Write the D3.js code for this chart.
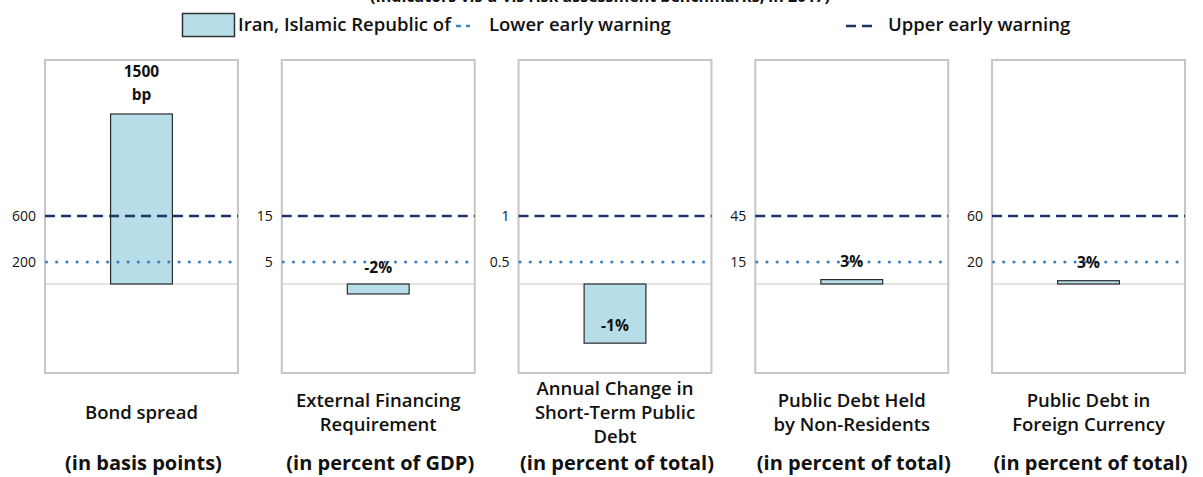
<!DOCTYPE html>
<html>
<head>
<meta charset="UTF-8">
<script src="https://d3js.org/d3.v7.min.js"></script>
<style>
  body { margin: 0; background: #fff; }
  text { font-family: "Open Sans", "Noto Sans", sans-serif; fill: #111; }
</style>
</head>
<body>
<svg id="canvas"></svg>
<script>
width = 1203;
height = 477;

// data
indicators = ["Bond spread", "External Financing Requirement", "Annual Change in Short-Term Public Debt",
              "Public Debt Held by Non-Residents", "Public Debt in Foreign Currency"];
labelLines = [["Bond spread"], ["External Financing", "Requirement"], ["Annual Change in", "Short-Term Public", "Debt"],
              ["Public Debt Held", "by Non-Residents"], ["Public Debt in", "Foreign Currency"]];
units = ["(in basis points)", "(in percent of GDP)", "(in percent of total)", "(in percent of total)", "(in percent of total)"];
values = [1500, -2.2, -0.87, 3, 3];
lowerWarning = [200, 5, 0.5, 15, 20];
upperWarning = [600, 15, 1, 45, 60];

svg = d3.select("#canvas").attr("width", width).attr("height", height);

fmt = d3.formatLocale({decimal: ".", thousands: ",", grouping: [3], currency: ["", ""], minus: "-"}).format(".0f");

panelTop = 60, panelBottom = 373;
zeroY = 284, lowerY = 262, upperY = 216;

px = d3.scaleBand().domain(indicators).range([45, 1185]).paddingInner(0.185);

// title (cut off at top of frame, as in the source)
svg.append("text")
    .attr("x", 600).attr("y", 2)
    .attr("text-anchor", "middle")
    .style("font-size", "16px").style("font-weight", "bold")
    .text("(Indicators vis-à-vis risk assessment benchmarks, in 2017)");

// legend
leg = svg.append("g");
leg.append("rect").attr("x", 182.5).attr("y", 13.5).attr("width", 52).attr("height", 23)
    .attr("fill", "#b7dde8").attr("stroke", "#333").attr("stroke-width", 1.5);
leg.append("text").attr("x", 238).attr("y", 31).style("font-size", "18.5px").style("font-weight", 600)
    .text("Iran, Islamic Republic of");
leg.append("line").attr("x1", 456).attr("x2", 470).attr("y1", 26).attr("y2", 26)
    .attr("stroke", "#3a87c8").attr("stroke-width", 2.5).attr("stroke-dasharray", "5,5");
leg.append("text").attr("x", 489).attr("y", 31).style("font-size", "18.5px").style("font-weight", 600)
    .text("Lower early warning");
leg.append("line").attr("x1", 846).attr("x2", 878).attr("y1", 26).attr("y2", 26)
    .attr("stroke", "#1f3464").attr("stroke-width", 2.5).attr("stroke-dasharray", "10,6");
leg.append("text").attr("x", 888).attr("y", 31).style("font-size", "18.5px").style("font-weight", 600)
    .text("Upper early warning");

indicators.forEach(function(name, i) {
    x0 = px(name);
    w = px.bandwidth();
    up = upperWarning[i];
    k = (zeroY - upperY) / up;
    // piecewise scale: thresholds sit at fixed heights in every panel
    y = d3.scaleLinear()
        .domain([-(panelBottom - zeroY) / k, 0, lowerWarning[i], up, up + (upperY - panelTop) / k])
        .range([panelBottom, zeroY, lowerY, upperY, panelTop]);
    bx = d3.scaleBand().domain([name]).range([x0, x0 + w]).padding(0.515);

    g = svg.append("g");

    g.append("rect")
        .attr("x", x0).attr("y", panelTop).attr("width", w).attr("height", panelBottom - panelTop)
        .attr("fill", "#fff").attr("stroke", "#c6c6c6").attr("stroke-width", 2);

    g.append("line")
        .attr("x1", x0).attr("x2", x0 + w).attr("y1", y(0)).attr("y2", y(0))
        .attr("stroke", "#c6c6c6").attr("stroke-width", 1);

    v = values[i];
    g.append("rect")
        .attr("x", bx(name)).attr("width", bx.bandwidth())
        .attr("y", Math.min(y(v), y(0))).attr("height", Math.abs(y(v) - y(0)))
        .attr("fill", "#b7dde8").attr("stroke", "#2b2b2b").attr("stroke-width", 1.2);

    // warning lines
    g.append("line")
        .attr("x1", x0).attr("x2", x0 + w).attr("y1", y(up)).attr("y2", y(up))
        .attr("stroke", "#1f3464").attr("stroke-width", 2.5).attr("stroke-dasharray", "10,6");
    g.append("line")
        .attr("x1", x0 + 1.5).attr("x2", x0 + w).attr("y1", y(lowerWarning[i])).attr("y2", y(lowerWarning[i]))
        .attr("stroke", "#3f7fc0").attr("stroke-width", 3.2).attr("stroke-linecap", "round")
        .attr("stroke-dasharray", "0,10.2");

    // threshold tick labels
    [up, lowerWarning[i]].forEach(function(t) {
        g.append("text")
            .attr("x", x0 - 9).attr("y", y(t) + 5)
            .attr("text-anchor", "end")
            .style("font-size", "14px")
            .text(t);
    });

    // value label
    cx = bx(name) + bx.bandwidth() / 2;
    if (i === 0) {
        g.append("text").attr("x", cx).attr("y", y(v) - 37).attr("text-anchor", "middle")
            .style("font-size", "15.5px").style("font-weight", "bold").text(fmt(v));
        g.append("text").attr("x", cx).attr("y", y(v) - 14).attr("text-anchor", "middle")
            .style("font-size", "15.5px").style("font-weight", "bold").text("bp");
    } else {
        lab = fmt(v) + "%";
        ly = v >= 0 ? y(v) - 13 : (y(v) - y(0) > 30 ? y(v) - 12 : y(0) - 11);
        g.append("text").attr("x", cx).attr("y", ly).attr("text-anchor", "middle")
            .style("font-size", "15.5px").style("font-weight", "bold").text(lab);
    }

    // category label
    lines = labelLines[i];
    lineH = 24;
    startY = 419 - (lines.length - 1) * lineH / 2;
    lines.forEach(function(l, j) {
        g.append("text").attr("x", x0 + w / 2).attr("y", startY + j * lineH)
            .attr("text-anchor", "middle")
            .style("font-size", "18.5px").style("font-weight", 600)
            .text(l);
    });

    g.append("text").attr("x", x0 + w / 2 + 2).attr("y", 470)
        .attr("text-anchor", "middle")
        .style("font-size", "20px").style("font-weight", "bold")
        .text(units[i]);
});
</script>
</body>
</html>
